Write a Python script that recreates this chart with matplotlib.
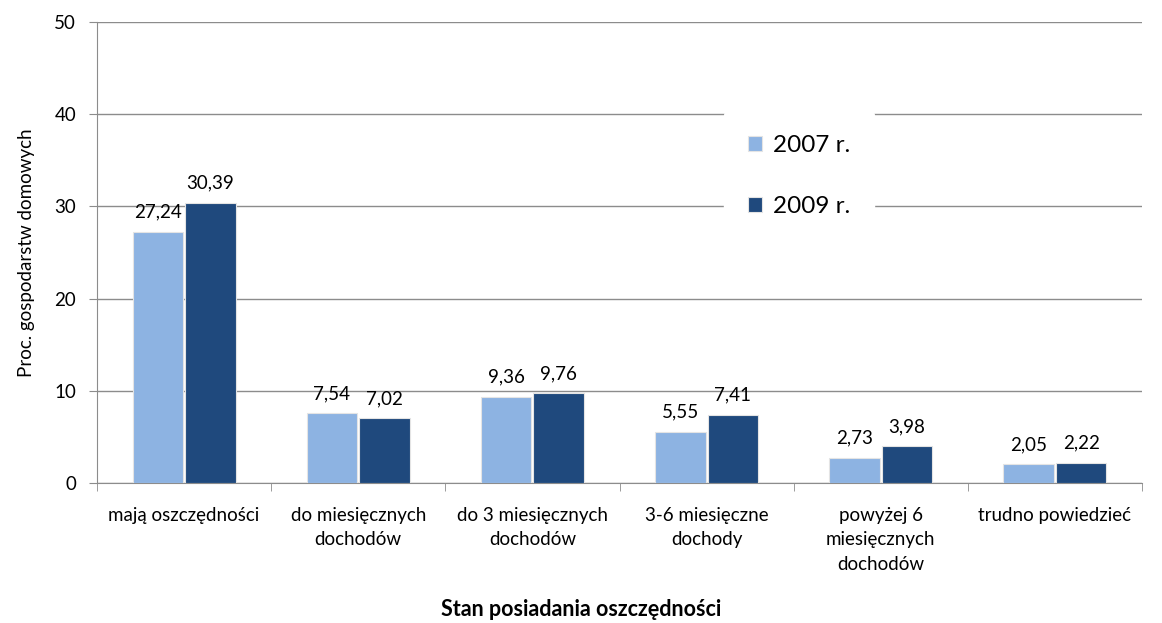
import matplotlib.pyplot as plt
import numpy as np

categories = ['mają oszczędności', 'do miesięcznych\ndochodów', 'do 3 miesięcznych\ndochodów',
              '3-6 miesięczne\ndochody', 'powyżej 6\nmiesięcznych\ndochodów', 'trudno powiedzieć']
values_2007 = [27.24, 7.54, 9.36, 5.55, 2.73, 2.05]
values_2009 = [30.39, 7.02, 9.76, 7.41, 3.98, 2.22]
series_names = ['2007 r.', '2009 r.']

plt.rcParams['font.family'] = ['Lato', 'DejaVu Sans']

fig = plt.figure(figsize=(11.62, 6.23), dpi=100)
ax = fig.add_axes([0.0835, 0.2247, 0.8993, 0.74])

x = np.arange(len(categories))
w = 0.29
light = '#8DB3E2'
dark = '#1F497D'
b1 = ax.bar(x - w / 2 - 0.006, values_2007, w, color=light, label=series_names[0], zorder=3,
            edgecolor='#e4e4e4', linewidth=0.8)
b2 = ax.bar(x + w / 2 + 0.006, values_2009, w, color=dark, label=series_names[1], zorder=3,
            edgecolor='#e4e4e4', linewidth=0.8)

fmt = lambda v: ('%.2f' % v).replace('.', ',')
for bars, vals in ((b1, values_2007), (b2, values_2009)):
    for r, v in zip(bars, vals):
        ax.annotate(fmt(v), (r.get_x() + r.get_width() / 2, v), xytext=(0, 8),
                    textcoords='offset points', ha='center', va='bottom', fontsize=13.5, zorder=5)

ax.set_xlim(-0.5, len(categories) - 0.5)
ax.set_ylim(0, 50)
ax.set_yticks(range(0, 51, 10))
ax.yaxis.grid(True, color='#8c8c8c', linewidth=1, zorder=0)
ax.set_axisbelow(True)

ax.set_xticks(x)
ax.set_xticklabels(categories, fontsize=13.5, va='top', linespacing=1.55)
ax.tick_params(axis='x', length=0, pad=17)
ax.set_xticks(np.arange(-0.5, len(categories), 1), minor=True)
ax.tick_params(axis='x', which='minor', length=6, color='#8c8c8c')
ax.tick_params(axis='y', length=6, color='#8c8c8c', labelsize=13.5, pad=9)

for s in ['top', 'right']:
    ax.spines[s].set_visible(False)
for s in ['left', 'bottom']:
    ax.spines[s].set_color('#8c8c8c')

ax.set_ylabel('Proc. gospodarstw domowych', fontsize=13.5, labelpad=14)
fig.text(0.5, 1 - 610 / 623, 'Stan posiadania oszczędności', fontsize=15.5, fontweight='bold',
         ha='center', va='center')

leg = ax.legend(loc='upper left', bbox_to_anchor=(0.6, 0.807), fontsize=17.5, frameon=True,
                handlelength=0.55, handleheight=0.55, handletextpad=0.45, labelspacing=1.65,
                borderpad=1.0, borderaxespad=0)
leg.get_frame().set_edgecolor('white')
leg.get_frame().set_facecolor('white')
leg.get_frame().set_alpha(1)
leg.set_zorder(6)

fig.savefig('out.png', dpi=100)
